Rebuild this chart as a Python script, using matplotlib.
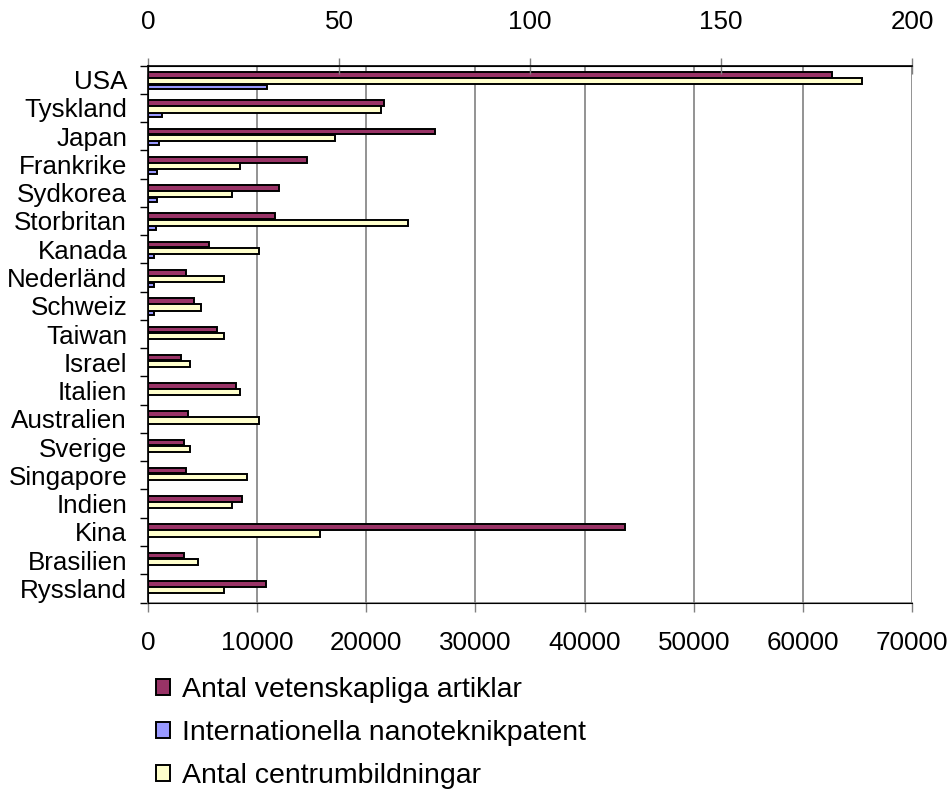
import numpy as np
import matplotlib.pyplot as plt
from matplotlib.patches import Patch

plt.rcParams['font.family'] = ['Liberation Sans', 'DejaVu Sans']

countries = ['USA', 'Tyskland', 'Japan', 'Frankrike', 'Sydkorea', 'Storbritan',
             'Kanada', 'Nederländ', 'Schweiz', 'Taiwan', 'Israel', 'Italien',
             'Australien', 'Sverige', 'Singapore', 'Indien', 'Kina', 'Brasilien',
             'Ryssland']
articles = [62700, 21600, 26300, 14600, 12000, 11600, 5600, 3500, 4200, 6300,
            3000, 8100, 3700, 3300, 3500, 8600, 43700, 3300, 10800]
patents = [10900, 1250, 1050, 850, 850, 700, 520, 520, 520, 0,
           0, 0, 0, 0, 0, 0, 0, 0, 0]
centers = [187, 61, 49, 24, 22, 68, 29, 20, 14, 20,
           11, 24, 29, 11, 26, 22, 45, 13, 20]

c_art = '#993366'
c_pat = '#9999ff'
c_cen = '#ffffcc'

fig = plt.figure(figsize=(9.53, 7.92), dpi=100)
ax = fig.add_axes([148 / 953, 1 - 602.5 / 792, 764 / 953, 537 / 792])
ax2 = ax.twiny()

y = np.arange(len(countries))
ax.barh(y - 0.165, articles, height=0.2, color=c_art, edgecolor='black', lw=1.4, zorder=3)
ax.barh(y + 0.255, patents, height=0.14, color=c_pat, edgecolor='black', lw=1.4, zorder=3)
ax2.barh(y + 0.06, centers, height=0.22, color=c_cen, edgecolor='black', lw=1.4, zorder=3)

ax.set_xlim(0, 70000)
ax2.set_xlim(0, 200)
ax.set_ylim(len(countries) - 0.5, -0.5)

ax.set_xticks(np.arange(0, 70001, 10000))
ax.xaxis.grid(True, color='#808080', lw=1.2, zorder=0)
ax.set_axisbelow(True)
ax.tick_params(axis='x', direction='out', length=6.5, width=1, color='#808080',
               labelsize=18.7, pad=14)

ax2.set_xticks(np.arange(0, 201, 50))
ax2.tick_params(axis='x', direction='inout', length=11.5, width=1, color='#808080',
                labelsize=18.7, pad=17)

ax.set_yticks(y)
ax.set_yticklabels(countries)
ax.set_yticks(np.arange(-0.5, len(countries), 1), minor=True)
ax.tick_params(axis='y', which='major', length=0, labelsize=18.7, pad=15)
ax.tick_params(axis='y', which='minor', direction='out', length=6, width=1)

for a in (ax, ax2):
    a.spines['right'].set_visible(False)
ax.spines['bottom'].set_color('#808080')
ax.spines['bottom'].set_linewidth(1.2)
ax2.spines['top'].set_linewidth(1.2)
ax.spines['left'].set_linewidth(1.2)

handles = [Patch(facecolor=c_art, edgecolor='black', lw=1.4),
           Patch(facecolor=c_pat, edgecolor='black', lw=1.4),
           Patch(facecolor=c_cen, edgecolor='black', lw=1.4)]
labels = ['Antal vetenskapliga artiklar', 'Internationella nanoteknikpatent',
          'Antal centrumbildningar']
fig.legend(handles, labels, loc='upper left', bbox_to_anchor=(156 / 953, 1 - 677 / 792),
           frameon=False, fontsize=20.5, handlelength=0.5, handleheight=0.5,
           handletextpad=0.4, labelspacing=0.6, borderaxespad=0, borderpad=0)

fig.savefig('out.png', dpi=100)
